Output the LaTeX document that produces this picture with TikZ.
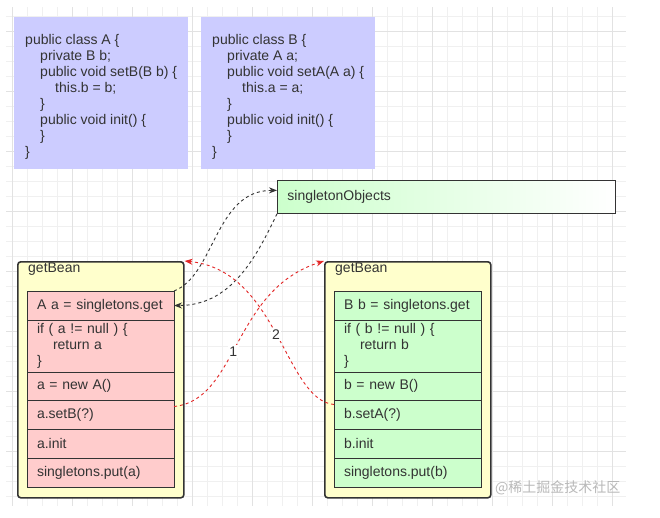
\documentclass[tikz,border=0pt]{standalone}
\usepackage{fontspec}
\setmainfont{Liberation Sans}
\newfontfamily\cjkfont{Noto Sans CJK SC}
\usetikzlibrary{arrows.meta, positioning, calc}

\definecolor{codeblue}{HTML}{CCCCFF}
\definecolor{beanyellow}{HTML}{FFFFCC}
\definecolor{rowred}{HTML}{FFCCCC}
\definecolor{rowgreen}{HTML}{CCFFCC}
\definecolor{linegray}{HTML}{333333}
\definecolor{gridminor}{HTML}{F0F0F0}
\definecolor{gridmajor}{HTML}{E2E2E2}
\definecolor{flowred}{HTML}{E32626}

\begin{document}
\begin{tikzpicture}[x=1pt, y=-1pt, font=\fontsize{14}{16}\selectfont, text=linegray,
  codebox/.style={fill=codeblue, minimum width=174pt, minimum height=152pt,
                  inner xsep=11pt, align=left, anchor=north west},
  bean/.style={draw=linegray, line width=1.6pt, rounded corners=3pt, fill=beanyellow,
               minimum width=166pt, minimum height=236pt, anchor=north west},
  title/.style={anchor=west, inner sep=0pt},
  row/.style={draw=linegray, line width=0.8pt, outer sep=0pt, text width=127pt, inner xsep=10pt,
              inner ysep=0pt, minimum width=147pt, align=left},
  flow/.style={dashed, line width=0.9pt, -{Stealth[length=8pt, width=6pt]}},
  lbl/.style={fill=white, inner sep=1.5pt, text=linegray}
]
  % background and grid
  \fill[white] (0,0) rectangle (660,517);
  \useasboundingbox (0,0) rectangle (660,517);
  \foreach \x in {12,27,...,612} \draw[gridminor, line width=0.8pt] (\x,7) -- (\x,506);
  \foreach \y in {16,31,...,496} \draw[gridminor, line width=0.8pt] (6,\y) -- (626,\y);
  \foreach \x in {12,72,...,612} \draw[gridmajor, line width=0.8pt] (\x,7) -- (\x,506);
  \foreach \y in {31,91,...,451} \draw[gridmajor, line width=0.8pt] (6,\y) -- (626,\y);

  % classes
  \node[codebox] (classA) at (14,17) {\rule{0pt}{18pt}public class A \{\\
    \hspace*{15pt}private B b;\\
    \hspace*{15pt}public void setB(B b) \{\\
    \hspace*{30pt}this.b = b;\\
    \hspace*{15pt}\}\\
    \hspace*{15pt}public void init() \{\\
    \hspace*{15pt}\}\\
    \}};
  \node[codebox] (classB) at (201,17) {\rule{0pt}{18pt}public class B \{\\
    \hspace*{15pt}private A a;\\
    \hspace*{15pt}public void setA(A a) \{\\
    \hspace*{30pt}this.a = a;\\
    \hspace*{15pt}\}\\
    \hspace*{15pt}public void init() \{\\
    \hspace*{15pt}\}\\
    \}};

  % cache
  \node[draw=linegray, line width=0.8pt, left color=rowgreen, right color=white,
        minimum width=338pt, minimum height=33pt, text width=318pt, inner xsep=10pt,
        align=left, anchor=north west] (singletons) at (277,180) {singletonObjects};

  % getBean for A
  \node[bean] (beanA) at (17,261) {};
  \node[title] (titleA) at (28,269) {getBean};
  \node[row, fill=rowred, minimum height=29pt, anchor=north west] (a1) at (27,291) {A a = singletons.get};
  \node[row, fill=rowred, minimum height=52pt, below=0pt of a1] (a2) {if ( a != null ) \{\\\hspace*{16pt}return a\\\}};
  \node[row, fill=rowred, minimum height=28pt, below=0pt of a2] (a3) {a = new A()};
  \node[row, fill=rowred, minimum height=29pt, below=0pt of a3] (a4) {a.setB(?)};
  \node[row, fill=rowred, minimum height=29pt, below=0pt of a4] (a5) {a.init};
  \node[row, fill=rowred, minimum height=29pt, below=0pt of a5] (a6) {singletons.put(a)};

  % getBean for B
  \node[bean] (beanB) at (324,261) {};
  \node[title] (titleB) at (335,269) {getBean};
  \node[row, fill=rowgreen, minimum height=29pt, anchor=north west] (b1) at (334,291) {B b = singletons.get};
  \node[row, fill=rowgreen, minimum height=52pt, below=0pt of b1] (b2) {if ( b != null ) \{\\\hspace*{16pt}return b\\\}};
  \node[row, fill=rowgreen, minimum height=28pt, below=0pt of b2] (b3) {b = new B()};
  \node[row, fill=rowgreen, minimum height=29pt, below=0pt of b3] (b4) {b.setA(?)};
  \node[row, fill=rowgreen, minimum height=29pt, below=0pt of b4] (b5) {b.init};
  \node[row, fill=rowgreen, minimum height=29pt, below=0pt of b5] (b6) {singletons.put(b)};

  % cache lookups
  \draw[flow, linegray] (a1.north east) .. controls (215,275) and (215,190) .. ([yshift=6.5pt]singletons.west);
  \draw[flow, linegray] (singletons.south west) .. controls (255,260) and (230,305.5) .. (a1.east);

  % recursive calls
  \draw[flow, flowred] ([yshift=8pt]a4.east) .. controls (238,400) and (232,290) .. (beanB.north west)
    node[lbl, pos=0.45] (one) {1};
  \draw[flow, flowred] ([yshift=10pt]b4.west) .. controls (285,400) and (278,270) .. (beanA.north east)
    node[lbl, pos=0.5] (two) {2};

  \node[anchor=west, inner sep=0pt, text=gray!55, font=\cjkfont\fontsize{14}{14}\selectfont] (mark) at (495,488) {@稀土掘金技术社区};
\end{tikzpicture}
\end{document}
